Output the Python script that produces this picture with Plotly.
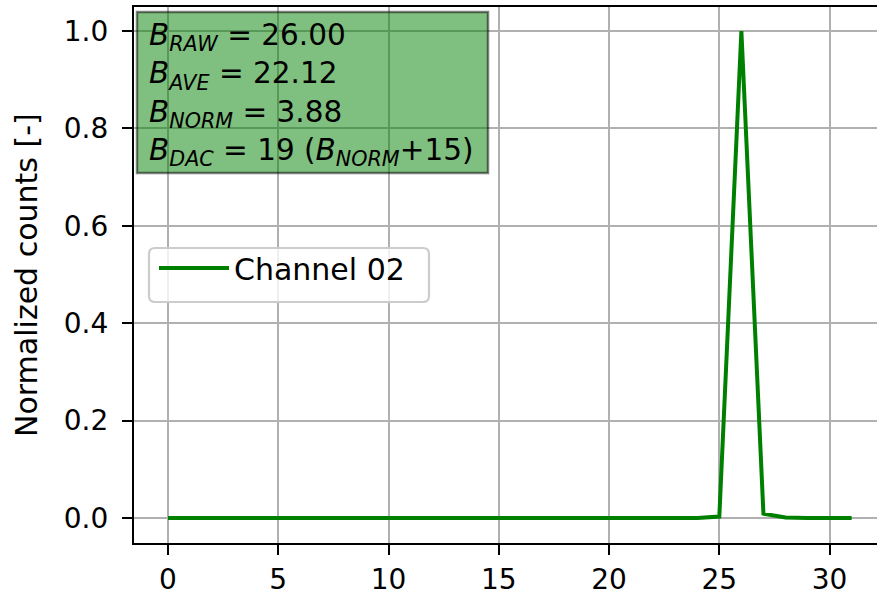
import plotly.graph_objects as go

# ---- data ----
channel = list(range(32))
counts = [0.0] * 32
counts[25] = 0.003
counts[26] = 1.0
counts[27] = 0.009
counts[28] = 0.001
series_name = "Channel 02"
x_ticks = [0, 5, 10, 15, 20, 25, 30]
y_ticks = [0.0, 0.2, 0.4, 0.6, 0.8, 1.0]
y_tick_labels = ["0.0", "0.2", "0.4", "0.6", "0.8", "1.0"]
y_title = "Normalized counts [-]"
b_raw, b_ave, b_norm, b_dac, b_offset = "26.00", "22.12", "3.88", "19", "15"

# ---- layout geometry (pixels) ----
W, H = 877, 596
L, R, T, B = 134, 0, 7, 53
PW, PH = W - L - R, H - T - B
FONT = "DejaVu Sans"
FS = 28


def px(xp):
    return (xp - L) / PW


def py(yp):
    return (H - B - yp) / PH


def rounded_rect(x0, y0, x1, y1, r):
    X = lambda v: f"{px(v):.5f}"
    Y = lambda v: f"{py(v):.5f}"
    return (f"M{X(x0 + r)},{Y(y0)} L{X(x1 - r)},{Y(y0)} Q{X(x1)},{Y(y0)} {X(x1)},{Y(y0 + r)} "
            f"L{X(x1)},{Y(y1 - r)} Q{X(x1)},{Y(y1)} {X(x1 - r)},{Y(y1)} "
            f"L{X(x0 + r)},{Y(y1)} Q{X(x0)},{Y(y1)} {X(x0)},{Y(y1 - r)} "
            f"L{X(x0)},{Y(y0 + r)} Q{X(x0)},{Y(y0)} {X(x0 + r)},{Y(y0)} Z")


fig = go.Figure()
fig.add_trace(go.Scatter(x=channel, y=counts, mode="lines", name=series_name,
                         line=dict(color="#008000", width=4)))

box_text = (f"<i>B</i><sub><i>RAW</i></sub> = {b_raw}<br>"
            f"<i>B</i><sub><i>AVE</i></sub> = {b_ave}<br>"
            f"<i>B</i><sub><i>NORM</i></sub> = {b_norm}<br>"
            f"<i>B</i><sub><i>DAC</i></sub> = {b_dac} (<i>B</i><sub><i>NORM</i></sub>+{b_offset})")

fig.update_layout(
    width=W, height=H,
    margin=dict(l=L, r=R, t=T, b=B, pad=0, autoexpand=False),
    paper_bgcolor="white", plot_bgcolor="white",
    font=dict(family=FONT, size=FS, color="black"),
    showlegend=True,
    legend=dict(x=px(154), y=py(242), xanchor="left", yanchor="top",
                bgcolor="rgba(0,0,0,0)", borderwidth=0, itemwidth=70,
                font=dict(family=FONT, size=30, color="black")),
    xaxis=dict(range=[-1.542, 32.15], tickvals=x_ticks, showgrid=True, automargin=False,
               gridcolor="#b0b0b0", gridwidth=2.2, zeroline=False,
               showline=True, linecolor="black", linewidth=2.2, mirror=True,
               ticks="outside", ticklen=10, tickwidth=2.2, tickcolor="black",
               tickfont=dict(family=FONT, size=FS, color="black")),
    yaxis=dict(range=[-0.05133, 1.04928], tickvals=y_ticks, ticktext=y_tick_labels,
               showgrid=True, automargin=False, ticklabelstandoff=8,
               gridcolor="#b0b0b0", gridwidth=2.2, zeroline=False,
               showline=True, linecolor="black", linewidth=2.2, mirror=False,
               ticks="outside", ticklen=10, tickwidth=2.2, tickcolor="black",
               tickfont=dict(family=FONT, size=FS, color="black")),
    shapes=[
        dict(type="rect", xref="paper", yref="paper",
             x0=px(137), x1=px(488), y0=py(173), y1=py(12),
             fillcolor="rgba(0,128,0,0.5)", line=dict(color="rgba(0,0,0,0.5)", width=2.5),
             layer="above"),
        dict(type="path", xref="paper", yref="paper",
             path=rounded_rect(149, 248, 429, 302, 6),
             fillcolor="rgba(255,255,255,0.8)", line=dict(color="#cccccc", width=2.2),
             layer="above"),
    ],
    annotations=[
        dict(text=box_text, xref="paper", yref="paper", x=px(147), y=py(16),
             xanchor="left", yanchor="top", align="left", showarrow=False,
             font=dict(family=FONT, size=29.5, color="black")),
        dict(text=y_title, xref="paper", yref="paper", x=px(26), y=0.5,
             xanchor="center", yanchor="middle", textangle=-90, showarrow=False,
             font=dict(family=FONT, size=30, color="black")),
    ],
)

fig.write_html("out.html",
               config={"displayModeBar": False},
               post_script="document.body.style.margin='0';"
                           "document.body.style.overflow='hidden';")
